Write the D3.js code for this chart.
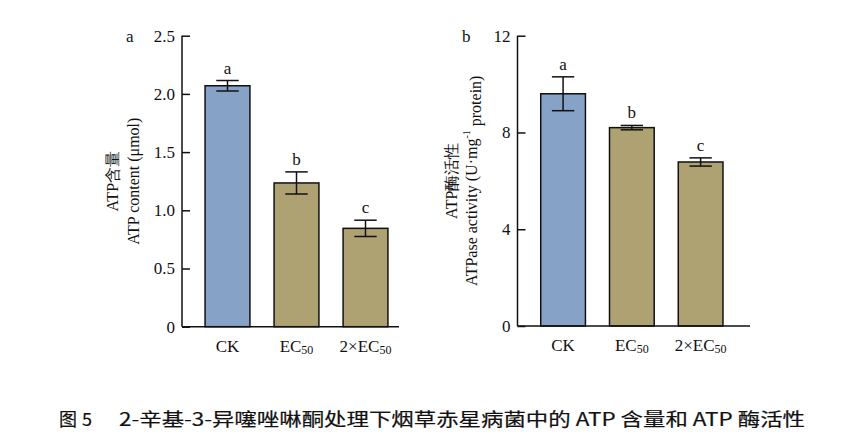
<!DOCTYPE html>
<html>
<head>
<meta charset="utf-8">
<script src="https://cdn.jsdelivr.net/npm/d3@7"></script>
<style>
  body { margin: 0; background: #fff; }
  svg text { font-family: "Liberation Serif", "Times New Roman", serif; fill: #111; }
  .cap { font-family: "Noto Sans CJK SC", sans-serif; fill: #111; stroke: #111; stroke-width: 0.2px; }
</style>
</head>
<body>
<svg id="chart" width="841" height="438"></svg>
<script>
'use strict';
const categories = ['CK', 'EC50', '2×EC50'];
const atpContent = [2.07, 1.235, 0.845];
const atpContentErr = [0.045, 0.095, 0.07];
const atpaseActivity = [9.6, 8.2, 6.78];
const atpaseErr = [0.7, 0.09, 0.17];
const sigLetters = ['a', 'b', 'c'];
const ticksA = [0, 0.5, 1.0, 1.5, 2.0, 2.5];
const ticksB = [0, 4, 8, 12];
const barColors = ['#87a2c7', '#aea172', '#aea172'];

const svg = d3.select('#chart');

function panel(opt) {
  const g = svg.append('g');
  const x = d3.scaleBand().domain(categories).range(opt.xr).paddingInner(0.35).paddingOuter(0.175);
  const y = d3.scaleLinear().domain(opt.ydom).range(opt.yr);

  // bars
  g.selectAll('rect.bar').data(opt.vals).join('rect')
    .attr('x', (d, i) => x(categories[i]))
    .attr('y', d => y(d))
    .attr('width', x.bandwidth())
    .attr('height', d => y(0) - y(d))
    .attr('fill', (d, i) => barColors[i])
    .attr('stroke', '#111').attr('stroke-width', 1.5);

  // error bars
  const capW = x.bandwidth() / 2;
  opt.vals.forEach((v, i) => {
    const cx = x(categories[i]) + x.bandwidth() / 2;
    const e = opt.errs[i];
    g.append('line').attr('x1', cx).attr('x2', cx).attr('y1', y(v + e)).attr('y2', y(v - e))
      .attr('stroke', '#111').attr('stroke-width', 1.5);
    [v + e, v - e].forEach(t => {
      g.append('line').attr('x1', cx - capW / 2).attr('x2', cx + capW / 2)
        .attr('y1', y(t)).attr('y2', y(t)).attr('stroke', '#111').attr('stroke-width', 1.5);
    });
    g.append('text').attr('x', cx).attr('y', y(v + e) - 7)
      .attr('text-anchor', 'middle').attr('font-size', 17).text(sigLetters[i]);
  });

  // y axis, ticks pointing inward
  const ya = g.append('g').attr('transform', `translate(${opt.ax},0)`)
    .call(d3.axisLeft(y).tickValues(opt.ticks).tickSize(-8).tickPadding(7)
      .tickFormat(opt.fmt));
  ya.select('.domain').attr('stroke', '#111').attr('stroke-width', 1.5).attr('d', `M0,${opt.yr[0]}V${opt.yr[1]}`);
  ya.selectAll('.tick line').attr('stroke', '#111').attr('stroke-width', 1.5);
  ya.selectAll('.tick text').attr('font-size', 17).attr('x', -7)
    .attr('font-family', '"Liberation Serif", serif').attr('fill', '#111');

  // baseline
  g.append('line').attr('x1', opt.ax).attr('x2', opt.xend).attr('y1', y(0)).attr('y2', y(0))
    .attr('stroke', '#111').attr('stroke-width', 1.5);

  // category labels
  const xa = g.append('g').attr('transform', `translate(0,${y(0)})`)
    .call(d3.axisBottom(x).tickSize(0).tickPadding(13).tickFormat(() => ''));
  xa.select('.domain').remove();
  xa.selectAll('.tick').each(function(d) {
    const t = d3.select(this).select('text').attr('font-size', 17).attr('dy', '0.71em')
      .attr('font-family', '"Liberation Serif", serif').attr('fill', '#111');
    const m = d.match(/^(.*EC)(50)$/);
    if (m) {
      t.append('tspan').text(m[1]);
      t.append('tspan').attr('font-size', 12).attr('dy', '0.2em').text(m[2]);
    } else {
      t.text(d);
    }
  });

  // panel letter
  g.append('text').attr('x', opt.letterX).attr('y', 42).attr('font-size', 17).text(opt.letter);

  // y labels
  const cy = (opt.yr[0] + opt.yr[1]) / 2;
  g.append('text').attr('transform', `translate(${opt.l1x},${cy}) rotate(-90)`)
    .attr('text-anchor', 'middle').attr('font-size', 16).text(opt.label1);
  const l2 = g.append('text').attr('transform', `translate(${opt.l2x},${cy}) rotate(-90)`)
    .attr('text-anchor', 'middle').attr('font-size', 16);
  opt.label2(l2);
}

panel({
  xr: [193, 400], ax: 182, xend: 399, yr: [326.7, 35.7], ydom: [0, 2.5],
  vals: atpContent, errs: atpContentErr, ticks: ticksA,
  fmt: d => d === 0 ? '0' : d3.format('.1f')(d),
  letter: 'a', letterX: 126, l1x: 118, l2x: 139,
  label1: 'ATP含量',
  label2: t => t.text('ATP content (μmol)')
});

panel({
  xr: [528.7, 735], ax: 517.5, xend: 750, yr: [326, 35.7], ydom: [0, 12],
  vals: atpaseActivity, errs: atpaseErr, ticks: ticksB,
  fmt: d3.format('d'),
  letter: 'b', letterX: 462, l1x: 457, l2x: 477,
  label1: 'ATP酶活性',
  label2: t => {
    t.append('tspan').text('ATPase activity (U·mg');
    t.append('tspan').attr('font-size', 10).attr('dy', '-0.7em').text('-1');
    t.append('tspan').attr('dy', '0.7em').text(' protein)');
  }
});

// caption
svg.append('text').attr('class', 'cap').attr('x', 59).attr('y', 426).attr('font-size', 18)
  .text('图');
svg.append('text').attr('class', 'cap').attr('x', 82).attr('y', 426).attr('font-size', 18)
  .text('5');
svg.append('text').attr('class', 'cap').attr('x', 119).attr('y', 426).attr('font-size', 18)
  .attr('textLength', 686).attr('lengthAdjust', 'spacingAndGlyphs')
  .text('2-辛基-3-异噻唑啉酮处理下烟草赤星病菌中的 ATP 含量和 ATP 酶活性');
</script>
</body>
</html>
